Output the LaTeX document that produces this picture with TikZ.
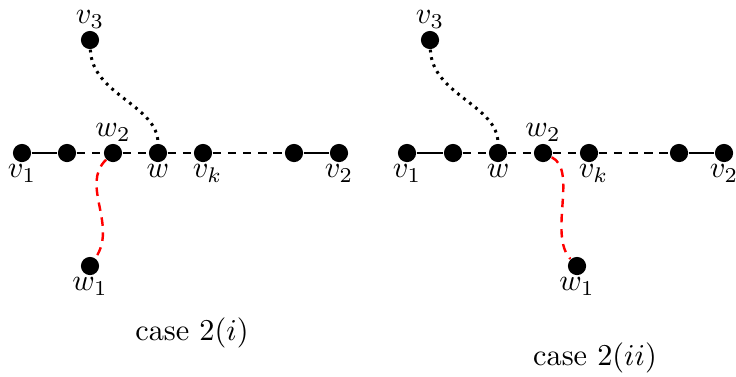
\documentclass[tikz,border=0pt]{standalone}
\begin{document}
\begin{tikzpicture}[x=0.33pt,y=-0.33pt,
  vtx/.style={circle,fill=black,inner sep=0pt,minimum size=6pt},
  lb/.style={inner sep=0.5pt},
  solidedge/.style={line width=0.8pt},
  dashedge/.style={line width=0.8pt,dashed,dash pattern=on 2.8pt off 2.2pt},
  dotedge/.style={line width=1pt,dotted,dash pattern=on 0.9pt off 1.6pt},
  rededge/.style={line width=0.8pt,red,dashed,dash pattern=on 2.8pt off 2.2pt}]
\useasboundingbox (0,0) rectangle (736,376);
% left diagram
\node[vtx,label={[lb]below:$v_1$}] (a1) at (22,153) {};
\node[vtx] (a2) at (67,153) {};
\node[vtx,label={[lb]above:$w_2$}] (aw2) at (113,153) {};
\node[vtx,label={[lb]below:$w$}] (aw) at (158,153) {};
\node[vtx,label={[lb,xshift=1.5pt]below:$v_k$}] (avk) at (203,153) {};
\node[vtx] (a6) at (294,153) {};
\node[vtx,label={[lb]below:$v_2$}] (av2) at (339,153) {};
\node[vtx,label={[lb]above:$v_3$}] (av3) at (90,40) {};
\node[vtx,label={[lb]below:$w_1$}] (aw1) at (90,266) {};
\draw[solidedge] (a1) -- (a2);
\draw[dashedge] (a2) -- (aw2) -- (aw) -- (avk) -- (a6);
\draw[solidedge] (a6) -- (av2);
\draw[dotedge] (av3) .. controls (92,95) and (158,105) .. (aw);
\draw[rededge] (aw2) .. controls (80,185) and (118,225) .. (aw1);
\node (c1) at (192,333) {case $2(i)$};
% right diagram
\node[vtx,label={[lb]below:$v_1$}] (b1) at (407,153) {};
\node[vtx] (b2) at (453,153) {};
\node[vtx,label={[lb]below:$w$}] (bw) at (498,153) {};
\node[vtx,label={[lb]above:$w_2$}] (bw2) at (543,153) {};
\node[vtx,label={[lb,xshift=1.5pt]below:$v_k$}] (bvk) at (589,153) {};
\node[vtx] (b6) at (679,153) {};
\node[vtx,label={[lb]below:$v_2$}] (bv2) at (724,153) {};
\node[vtx,label={[lb]above:$v_3$}] (bv3) at (430,40) {};
\node[vtx,label={[lb]below:$w_1$}] (bw1) at (577,266) {};
\draw[solidedge] (b1) -- (b2);
\draw[dashedge] (b2) -- (bw) -- (bw2) -- (bvk) -- (b6);
\draw[solidedge] (b6) -- (bv2);
\draw[dotedge] (bv3) .. controls (432,95) and (498,105) .. (bw);
\draw[rededge] (bw2) .. controls (578,170) and (548,235) .. (bw1);
\node (c2) at (595,358) {case $2(ii)$};
\end{tikzpicture}
\end{document}
